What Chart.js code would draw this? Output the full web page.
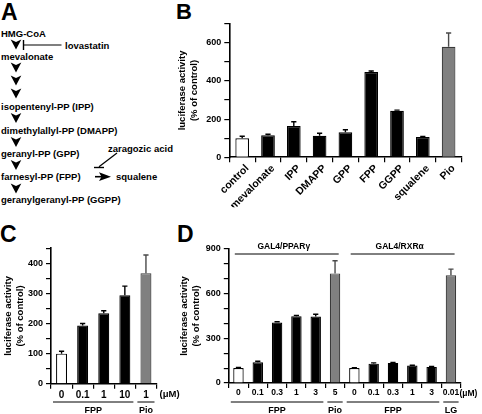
<!DOCTYPE html>
<html>
<head>
<meta charset="utf-8">
<script src="https://cdn.jsdelivr.net/npm/chart.js@4.4.1/dist/chart.umd.min.js"></script>
<style>
  html, body { margin: 0; padding: 0; background: #fff; overflow: hidden; }
  #wrap { position: relative; width: 482px; height: 414px; overflow: hidden; }
  #wrap canvas, #wrap svg { position: absolute; left: 0; top: 0; }
  svg text { font-family: 'Liberation Sans', Arial, Helvetica, sans-serif; font-weight: bold; fill: #000; }
</style>
</head>
<body>
<div id="wrap">
  <svg id="panelA" width="482" height="414">
    <text x="1" y="20" font-size="23">A</text>
    <text x="176" y="18.5" font-size="22">B</text>
    <text x="0" y="241.5" font-size="23">C</text>
    <text x="177" y="241.5" font-size="23">D</text>
    <g id="pathway" font-size="9.5" dominant-baseline="central"></g>
  </svg>
  <canvas id="chartB" width="482" height="414"></canvas>
  <canvas id="chartC" width="482" height="414"></canvas>
  <canvas id="chartD" width="482" height="414"></canvas>
</div>
<script>
// ---- data ----
// panel A: pathway
var stepNames = ['HMG-CoA', 'mevalonate', 'isopentenyl-PP (IPP)', 'dimethylallyl-PP (DMAPP)',
                 'geranyl-PP (GPP)', 'farnesyl-PP (FPP)', 'geranylgeranyl-PP (GGPP)'];

// panel B
var bLabels = ['control', 'mevalonate', 'IPP', 'DMAPP', 'GPP', 'FPP', 'GGPP', 'squalene', 'Pio'];
var bValues = [100, 115, 164, 113, 131, 446, 244, 106, 579];
var bErrors = [10, 6, 22, 13, 13, 6, 3, 3, 72];
var bKinds  = ['ctrl', 'test', 'test', 'test', 'test', 'test', 'test', 'test', 'ref'];

// panel C
var cLabels = ['0', '0.1', '1', '10', '1'];
var cValues = [100, 193, 234, 294, 367];
var cErrors = [8, 7, 8, 30, 60];
var cKinds  = ['ctrl', 'test', 'test', 'test', 'ref'];
var cGroupLabels = ['FPP', 'Pio'];
var cGroupSpans  = [[0, 3], [4, 4]];

// panel D
var dLabels = ['0', '0.1', '0.3', '1', '3', '5', '0', '0.1', '0.3', '1', '3', '0.01'];
var dValues = [100, 139, 406, 449, 447, 736, 101, 130, 135, 117, 108, 723];
var dErrors = [5, 7, 5, 5, 15, 85, 2, 5, 3, 2, 3, 42];
var dKinds  = ['ctrl', 'test', 'test', 'test', 'test', 'ref', 'ctrl', 'test', 'test', 'test', 'test', 'ref'];
var dGroupLabels = ['FPP', 'Pio', 'FPP', 'LG'];
var dGroupSpans  = [[0, 4], [5, 5], [6, 10], [11, 11]];
var dHeadLabels  = ['GAL4/PPAR\u03b3', 'GAL4/RXR\u03b1'];
var dHeadSpans   = [[0, 5], [6, 11]];

var FONT = "'Liberation Sans', Arial, Helvetica, sans-serif";
var fill   = { ctrl: '#ffffff', test: '#000000', ref: '#808080' };
var edge   = { ctrl: '#000000', test: '#000000', ref: '#3a3a3a' };
var errCol = { ctrl: '#000000', test: '#000000', ref: '#4a4a4a' };

// ---- panel A drawn as svg ----
(function () {
  var ns = 'http://www.w3.org/2000/svg';
  var g = document.getElementById('pathway');
  function el(tag, attrs, txt) {
    var e = document.createElementNS(ns, tag);
    for (var k in attrs) e.setAttribute(k, attrs[k]);
    if (txt) e.textContent = txt;
    g.appendChild(e);
    return e;
  }
  var textY = [33, 56.7, 106.7, 130, 153.5, 176.7, 199.3];
  stepNames.forEach(function (s, i) { el('text', { x: 1, y: textY[i] }, s); });
  el('text', { x: 65, y: 45.7 }, 'lovastatin');
  el('text', { x: 108, y: 148.3 }, 'zaragozic acid');
  el('text', { x: 116, y: 176.7 }, 'squalene');

  // chevron arrowheads between the steps
  var chevrons = [39.5, 62.5, 75.5, 88.5, 113, 137, 160, 183.5];
  chevrons.forEach(function (t) {
    var cx = 16;
    el('polygon', { points: (cx - 5.3) + ',' + t + ' ' + cx + ',' + (t + 2.6) + ' ' + (cx + 5.3) + ',' + t + ' ' + cx + ',' + (t + 10), fill: '#000' });
  });
  // inhibitions
  el('line', { x1: 23.5, y1: 45, x2: 61.5, y2: 45, stroke: '#000', 'stroke-width': 1.2 });
  el('line', { x1: 23.5, y1: 40, x2: 23.5, y2: 50, stroke: '#000', 'stroke-width': 1.4 });
  el('line', { x1: 117, y1: 153, x2: 99, y2: 166.8, stroke: '#000', 'stroke-width': 1.2 });
  el('line', { x1: 94, y1: 167.5, x2: 104, y2: 167.5, stroke: '#000', 'stroke-width': 1.4 });
  // FPP -> squalene
  el('line', { x1: 95, y1: 176.7, x2: 102, y2: 176.7, stroke: '#000', 'stroke-width': 1.6 });
  el('polygon', { points: '99,172.3 111,176.7 99,181.1 101.5,176.7', fill: '#000' });
})();

// ---- chart helpers ----
var errorBars = {
  id: 'errorBars',
  afterDatasetsDraw: function (chart, args, opts) {
    var ctx = chart.ctx;
    var y = chart.scales.y;
    var meta = chart.getDatasetMeta(0);
    var vals = chart.data.datasets[0].data;
    ctx.save();
    ctx.lineWidth = 1.4;
    meta.data.forEach(function (bar, i) {
      var top = y.getPixelForValue(vals[i]);
      var end = y.getPixelForValue(vals[i] + opts.errors[i]);
      ctx.strokeStyle = errCol[opts.kinds[i]];
      ctx.beginPath();
      ctx.moveTo(bar.x, top);
      ctx.lineTo(bar.x, end);
      ctx.moveTo(bar.x - 2.6, end);
      ctx.lineTo(bar.x + 2.6, end);
      ctx.stroke();
    });
    ctx.restore();
  }
};

// group lines and their labels, drawn from the x scale
// (every row sets all its keys: missing keys resolve through chart.js option scopes)
var groupLines = {
  id: 'groupLines',
  afterDraw: function (chart, args, opts) {
    if (!opts.rows) return;
    var ctx = chart.ctx;
    var x = chart.scales.x;
    var half = (x.getPixelForValue(1) - x.getPixelForValue(0)) / 2;
    opts.rows.forEach(function (row) {
      row.labels.forEach(function (lab, k) {
        var a = x.getPixelForValue(row.spans[k][0]) - half + row.inset;
        var b = x.getPixelForValue(row.spans[k][1]) + half - row.inset;
        ctx.save();
        ctx.strokeStyle = '#000';
        ctx.lineWidth = 1;
        ctx.beginPath();
        ctx.moveTo(a, row.lineY);
        ctx.lineTo(b, row.lineY);
        ctx.stroke();
        ctx.fillStyle = '#000';
        ctx.font = 'bold ' + row.size + 'px ' + FONT;
        ctx.textAlign = 'center';
        ctx.textBaseline = 'middle';
        ctx.fillText(lab, (a + b) / 2 + row.dx, row.textY);
        ctx.restore();
      });
    });
    if (opts.unit) {
      ctx.save();
      ctx.fillStyle = '#000';
      ctx.font = 'bold ' + opts.unit.size + 'px ' + FONT;
      ctx.textAlign = 'left';
      ctx.textBaseline = 'middle';
      ctx.fillText('(\u03bcM)', opts.unit.x, opts.unit.y);
      ctx.restore();
    }
  }
};

function makeChart(id, p) {
  var kinds = p.kinds;
  return new Chart(document.getElementById(id), {
    type: 'bar',
    data: {
      labels: p.labels,
      datasets: [{
        data: p.values,
        backgroundColor: kinds.map(function (k) { return fill[k]; }),
        borderColor: kinds.map(function (k) { return edge[k]; }),
        borderWidth: 1.2,
        borderSkipped: 'bottom',
        barPercentage: p.barPct,
        categoryPercentage: 1
      }]
    },
    plugins: [errorBars, groupLines],
    options: {
      responsive: false,
      animation: false,
      devicePixelRatio: 1,
      layout: { padding: p.padding },
      plugins: {
        legend: { display: false },
        tooltip: { enabled: false },
        errorBars: { errors: p.errors, kinds: kinds },
        groupLines: p.groups || {}
      },
      scales: {
        x: {
          type: 'category',
          offset: true,
          grid: { offset: true, drawOnChartArea: false, drawTicks: true, tickLength: 5, color: '#000', lineWidth: 1.2 },
          border: { display: true, color: '#000', width: 1.6 },
          ticks: {
            autoSkip: false,
            maxRotation: p.rot, minRotation: p.rot,
            padding: p.xPad,
            labelOffset: p.labelOffset || 0,
            color: '#000',
            font: { family: FONT, size: p.xFont, weight: 'bold' }
          },
          afterFit: function (s) { s.height = p.xHeight; }
        },
        y: {
          min: 0, max: p.max,
          grid: { drawOnChartArea: false, drawTicks: true, tickLength: 5, color: '#000', lineWidth: 1.2 },
          border: { display: true, color: '#000', width: 1.6 },
          ticks: {
            stepSize: p.minor,
            autoSkip: false,
            padding: 3,
            color: '#000',
            font: { family: FONT, size: 9, weight: 'bold' },
            callback: function (v) { return v % p.major === 0 ? v : ''; }
          },
          title: {
            display: true,
            text: ['luciferase activity', '(% of control)'],
            color: '#000',
            padding: 0,
            font: { family: FONT, size: 9.5, weight: 'bold', lineHeight: 1.2 }
          },
          afterFit: function (s) { s.width = p.yWidth; }
        }
      }
    }
  });
}

// ---- panel B ----
makeChart('chartB', {
  labels: bLabels, values: bValues, errors: bErrors, kinds: bKinds,
  barPct: 0.53, max: 700, minor: 100, major: 200,
  rot: 45, xFont: 10.5, xPad: 0, labelOffset: 5, xHeight: 50,
  yWidth: 52.5,
  padding: { left: 176.8, right: 20.5, top: 23.6, bottom: 414 - 157.3 - 50 }
});

// ---- panel C ----
makeChart('chartC', {
  labels: cLabels, values: cValues, errors: cErrors, kinds: cKinds,
  barPct: 0.52, max: 450, minor: 50, major: 100,
  rot: 0, xFont: 10, xPad: 0, xHeight: 20,
  yWidth: 48.2,
  padding: { left: 2.8, right: 482 - 156.5, top: 248.1, bottom: 414 - 383.8 - 20 },
  groups: {
    rows: [{ labels: cGroupLabels, spans: cGroupSpans, lineY: 402, textY: 410.8, size: 9, inset: 2, dx: 0 }],
    unit: { x: 159.5, y: 394, size: 9.5 }
  }
});

// ---- panel D ----
makeChart('chartD', {
  labels: dLabels, values: dValues, errors: dErrors, kinds: dKinds,
  barPct: 0.54, max: 900, minor: 100, major: 300,
  rot: 0, xFont: 8.5, xPad: 0, xHeight: 20,
  yWidth: 50,
  padding: { left: 178.8, right: 482 - 460.6, top: 249, bottom: 414 - 383 - 20 },
  groups: {
    rows: [
      { labels: dGroupLabels, spans: dGroupSpans, lineY: 402, textY: 410.8, size: 9, inset: 2, dx: 0 },
      { labels: dHeadLabels, spans: dHeadSpans, lineY: 254, textY: 246.5, size: 8.5, inset: 6, dx: -3 }
    ],
    unit: { x: 459.5, y: 393.5, size: 8.5 }
  }
});
</script>
</body>
</html>
